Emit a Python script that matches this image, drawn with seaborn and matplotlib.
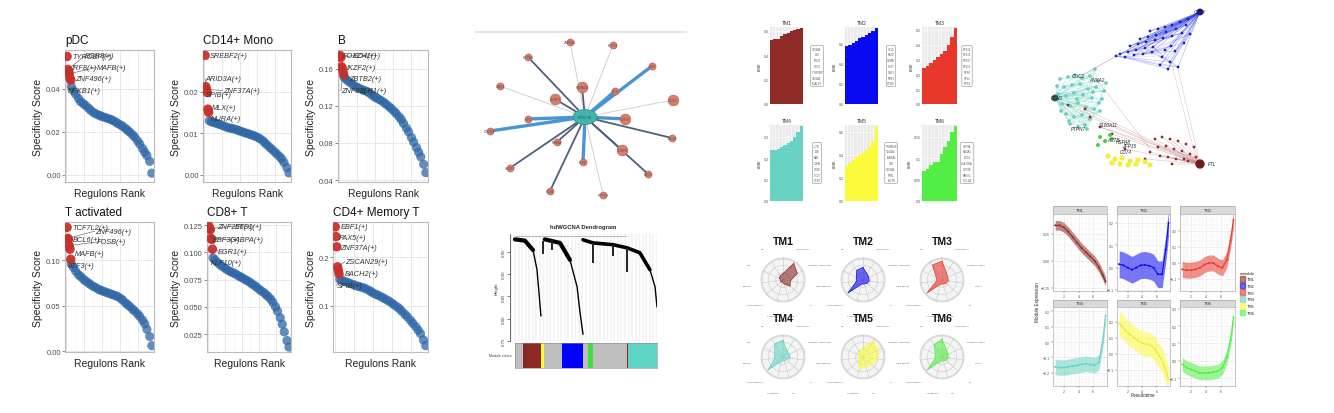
import numpy as np
import pandas as pd
import matplotlib
matplotlib.use("Agg")
import matplotlib.pyplot as plt
import seaborn as sns
from matplotlib.patches import Patch, Ellipse
from matplotlib.ticker import MultipleLocator

sns.set_theme(style="white")
plt.rcParams["font.family"] = ["Liberation Sans", "DejaVu Sans"]

W, H = 1334, 414
fig = plt.figure(figsize=(W / 100, H / 100), dpi=100)


def px_axes(x0, y0, x1, y1, **kw):
    return fig.add_axes([x0 / W, 1 - y1 / H, (x1 - x0) / W, (y1 - y0) / H], **kw)


def fx(x):
    return x / W


def fy(y):
    return 1 - y / H


# ---------------- DATA: regulon specificity (panel A) ----------------
rss_rank = [1, 2, 3, 4, 5, 6,
            7, 10, 13, 17, 20, 24, 27, 31, 34, 38, 41, 45, 48, 51, 55, 58, 62,
            65, 69, 72, 76, 79, 83, 86, 89, 93, 96, 100, 103, 107, 110, 113, 117, 120]

rss_pdc = [0.055, 0.049, 0.048, 0.047, 0.045, 0.044,
           0.041, 0.039, 0.0375, 0.0355, 0.034, 0.033, 0.0322, 0.031, 0.030, 0.029,
           0.0284, 0.0278, 0.0274, 0.0270, 0.0266, 0.0262, 0.0258, 0.0253, 0.0246,
           0.0239, 0.0232, 0.0225, 0.0216, 0.0207, 0.0198, 0.0186, 0.0175, 0.0158,
           0.0143, 0.0122, 0.0105, 0.0090, 0.0063, 0.0008]
rss_cd14 = [0.0287, 0.0212, 0.0205, 0.0198, 0.0158, 0.0150,
            0.0130, 0.0128, 0.0126, 0.0124, 0.0122, 0.0120, 0.0118, 0.0115, 0.0113,
            0.0112, 0.0111, 0.0109, 0.0107, 0.0105, 0.0103, 0.0101, 0.0099, 0.0097,
            0.0095, 0.0093, 0.0090, 0.0087, 0.0082, 0.0077, 0.0072, 0.0066, 0.0061,
            0.0055, 0.0050, 0.0044, 0.0038, 0.0030, 0.0018, 0.0005]
rss_b = [0.174, 0.172, 0.162, 0.160, 0.157, 0.153,
         0.150, 0.148, 0.146, 0.144, 0.142, 0.140, 0.139, 0.1375, 0.1365, 0.1355,
         0.134, 0.132, 0.130, 0.1285, 0.127, 0.1255, 0.1235, 0.1215, 0.119, 0.117,
         0.114, 0.1115, 0.108, 0.105, 0.101, 0.096, 0.092, 0.086, 0.081, 0.075,
         0.070, 0.065, 0.057, 0.048]
rss_tact = [0.136, 0.124, 0.123, 0.116, 0.112, 0.101,
            0.096, 0.092, 0.088, 0.084, 0.082, 0.079, 0.077, 0.075, 0.073, 0.071,
            0.070, 0.068, 0.067, 0.066, 0.065, 0.064, 0.063, 0.062, 0.061, 0.060,
            0.058, 0.056, 0.053, 0.051, 0.049, 0.046, 0.044, 0.041, 0.038, 0.034,
            0.030, 0.024, 0.016, 0.006]
rss_cd8 = [0.124, 0.122, 0.121, 0.113, 0.112, 0.103,
           0.095, 0.093, 0.091, 0.089, 0.0875, 0.086, 0.0845, 0.083, 0.082, 0.081,
           0.080, 0.0785, 0.0775, 0.0765, 0.075, 0.074, 0.0725, 0.071, 0.0695,
           0.068, 0.066, 0.0645, 0.063, 0.061, 0.0595, 0.057, 0.054, 0.050, 0.046,
           0.040, 0.034, 0.027, 0.019, 0.013]
rss_cd4m = [0.262, 0.242, 0.221, 0.180, 0.173, 0.165,
            0.154, 0.152, 0.150, 0.148, 0.146, 0.144, 0.142, 0.140, 0.1385, 0.137,
            0.135, 0.132, 0.129, 0.126, 0.123, 0.121, 0.118, 0.115, 0.112, 0.109,
            0.105, 0.101, 0.097, 0.093, 0.088, 0.082, 0.077, 0.070, 0.064, 0.057,
            0.050, 0.043, 0.030, 0.018]

rss_titles = ["pDC", "CD14+ Mono", "B", "T activated", "CD8+ T", "CD4+ Memory T"]
rss_scores = [rss_pdc, rss_cd14, rss_b, rss_tact, rss_cd8, rss_cd4m]
rss_names = [
    ["TYROBP(+)", "EGR3(+)", "IRF8(+)", "MAFB(+)", "ZNF496(+)", "NFKB1(+)"],
    ["SREBF2(+)", "ARID3A(+)", "ZNF37A(+)", "SPIB(+)", "MLX(+)", "NURA(+)"],
    ["FOXO4(+)", "EZH1(+)", "IKZF2(+)", "ZBTB2(+)", "ZNF83(+)", "ELK1(+)"],
    ["TCF7L2(+)", "ZNF496(+)", "BCL6(+)", "FOSB(+)", "MAFB(+)", "ATF3(+)"],
    ["ZNF256(+)", "ETS1(+)", "EBF3(+)", "GABPA(+)", "EGR1(+)", "KLF10(+)"],
    ["EBF1(+)", "PAX5(+)", "ZNF37A(+)", "ZSCAN29(+)", "BACH2(+)", "SPIB(+)"],
]
rss_label_x = [[8, 26, 8, 43, 12, 2], [8, 1, 26, 2, 11, 9], [5, 19, 10, 13, 2, 28],
               [8, 40, 9, 43, 12, 2], [13, 40, 7, 32, 14, 4], [8, 6, 7, 14, 14, 3]]
rss_label_y = [[0.055, 0.0553, 0.0499, 0.0499, 0.0447, 0.039],
               [0.0287, 0.0231, 0.0203, 0.0193, 0.0161, 0.0135],
               [0.174, 0.174, 0.161, 0.149, 0.136, 0.136],
               [0.136, 0.132, 0.123, 0.120, 0.107, 0.094],
               [0.124, 0.124, 0.112, 0.112, 0.101, 0.091],
               [0.262, 0.241, 0.219, 0.191, 0.166, 0.141]]
rss_ylim = [(-0.0033, 0.058), (-0.0017, 0.030), (0.038, 0.18),
            (-0.001, 0.142), (0.0085, 0.128), (0.005, 0.272)]
rss_yticks = [[0, 0.02, 0.04], [0, 0.01, 0.02], [0.04, 0.08, 0.12, 0.16],
              [0, 0.05, 0.10], [0.025, 0.05, 0.075, 0.1, 0.125], [0.1, 0.2]]
rss_yticklabels = [["0.00", "0.02", "0.04"], ["0.00", "0.01", "0.02"],
                   ["0.04", "0.08", "0.12", "0.16"], ["0.00", "0.05", "0.10"],
                   ["0.025", "0.050", "0.075", "0.100", "0.125"], ["0.1", "0.2"]]
rss_boxes = [(65, 51, 154, 183), (203, 51, 291, 183), (338, 51, 428, 183),
             (65, 223, 154, 353), (207, 223, 291, 353), (333, 223, 428, 353)]

# ---------------- DATA: co-expression hub network (panel B top) ----------------
netb_hub_x = [585]
netb_hub_y = [118]
netb_x = [570, 613, 528, 652, 500, 582, 615, 555, 673, 528, 625, 490, 672, 557, 622, 583, 510, 648, 550, 603]
netb_y = [43, 46, 58, 67, 87, 88, 92, 100, 101, 120, 120, 132, 139, 143, 151, 163, 169, 175, 192, 196]
netb_kind = ["light", "light", "dark", "blue", "light", "dark", "blue", "dark", "light", "blue",
             "blue", "blue", "dark", "dark", "dark", "blue", "dark", "dark", "dark", "light"]
netb_big = [0, 0, 0, 0, 0, 1, 0, 1, 1, 0, 1, 0, 0, 0, 1, 0, 0, 0, 0, 0]
netb_names = ["ZNF638", "KLF13", "HSPA8", "JUN", "LMO4", "HSPA1A", "FOS", "DUSP1", "CD69", "IER2",
              "JUNB", "CXCR4", "TSC22", "NR4A2", "DUSP2", "KLF6", "SRSF7", "BTG2", "CD83", "PPP1R"]

# ---------------- DATA: dendrogram (panel B bottom) ----------------
dend_arc1_x = [0, 7, 12.7, 15.5, 16.9, 18.3]
dend_arc1_h = [0.978, 0.975, 0.954, 0.910, 0.858, 0.806]
dend_arc2_x = [21, 31.7, 38.7, 43.7, 45.8, 47.9]
dend_arc2_h = [0.978, 0.970, 0.932, 0.872, 0.814, 0.765]
dend_arc3_x = [47.9, 54.9, 69, 78.9, 87.9, 95, 98.6, 100]
dend_arc3_h = [0.977, 0.970, 0.966, 0.959, 0.948, 0.910, 0.872, 0.826]
dend_drop_x = [20, 26, 55, 69, 79]
dend_drop_top = [0.975, 0.976, 0.970, 0.966, 0.959]
dend_drop_bot = [0.945, 0.955, 0.925, 0.940, 0.905]
module_bar_colors = ["#bebebe", "#8b2a25", "#ffff33", "#bebebe", "#0000ff",
                     "#bebebe", "#44dd44", "#bebebe", "#8b2a25", "#5fd3c6"]
module_bar_widths = [5.6, 12.7, 2.1, 12.7, 14.8, 3.5, 3.5, 24.0, 0.7, 20.4]

# ---------------- DATA: module kME and radar (panel C) ----------------
modules = ["TM1", "TM2", "TM3", "TM4", "TM5", "TM6"]
module_colors = ["#8e2b26", "#0a0af0", "#e8372b", "#68d3c3", "#fbfb3c", "#52ee45"]
kme_tm1 = [0.525, 0.53, 0.535, 0.56, 0.575, 0.585, 0.60, 0.605, 0.615, 0.62]
kme_tm2 = [0.575, 0.59, 0.61, 0.63, 0.655, 0.67, 0.69, 0.71, 0.73, 0.755]
kme_tm3 = [0.24, 0.26, 0.28, 0.30, 0.32, 0.34, 0.36, 0.40, 0.45, 0.51]
kme_tm4 = [0.24, 0.24, 0.245, 0.25, 0.26, 0.27, 0.28, 0.30, 0.32, 0.35]
kme_tm5 = [0.30, 0.33, 0.36, 0.38, 0.40, 0.42, 0.44, 0.47, 0.52, 0.65]
kme_tm6 = [0.07, 0.075, 0.085, 0.09, 0.09, 0.11, 0.125, 0.14, 0.16, 0.175]
kme_values = [kme_tm1, kme_tm2, kme_tm3, kme_tm4, kme_tm5, kme_tm6]
kme_ylim = [0.63, 0.765, 0.52, 0.355, 0.66, 0.177]
kme_yticks = [[0, 0.2, 0.4, 0.6], [0, 0.2, 0.4, 0.6], [0, 0.1, 0.2, 0.3, 0.4, 0.5],
              [0, 0.1, 0.2, 0.3], [0, 0.2, 0.4, 0.6], [0, 0.05, 0.10, 0.15]]
kme_genes = [["S100A8", "LYZ", "FCN1", "CST3", "TYROBP", "S100A9", "LGALS2"],
             ["CCL5", "NKG7", "GZMA", "CST7", "GNLY", "PRF1", "CTSW"],
             ["RPS12", "RPL32", "RPS27", "RPL13", "RPS6", "RPL3", "RPS3"],
             ["IL7R", "LTB", "MAL", "LDHB", "CD3E", "TCF7", "CCR7"],
             ["TMSB4X", "S100A4", "ANXA1", "VIM", "S100A6", "FTH1", "ACTB"],
             ["CD79A", "MS4A1", "CD74", "HLA-DRA", "CD79B", "BANK1", "TCL1A"]]
kme_boxes = [(770, 28, 803, 105), (845, 28, 878, 105), (922, 28, 957, 105),
             (770, 126, 803, 202), (845, 126, 878, 202), (922, 126, 957, 202)]
kme_legend_xy = [(817, 67), (891, 67), (967, 67), (817, 164), (891, 164), (967, 164)]

radar_cats = ["CD14+ Mono", "CD4 Naive T", "FCGR3A+ Mono", "CD8 T", "B", "NK",
              "T activated", "CD4 Memory T", "Platelet", "pDC", "DC"]
radar_vals = [[0.30, 0.95, 0.75, 0.35, 0.45, 0.20, 0.10, 0.15, 0.10, 0.20, 0.25],
              [0.60, 0.35, 0.30, 0.30, 0.25, 0.20, 0.20, 0.95, 0.30, 0.35, 0.55],
              [0.90, 0.40, 0.30, 0.30, 0.25, 0.20, 0.20, 0.95, 0.25, 0.30, 0.85],
              [0.80, 0.35, 0.30, 0.35, 0.20, 0.20, 0.20, 0.95, 0.40, 0.45, 0.75],
              [0.45, 0.90, 0.80, 0.70, 0.55, 0.50, 0.60, 0.30, 0.20, 0.25, 0.30],
              [0.85, 0.40, 0.30, 0.30, 0.25, 0.20, 0.20, 0.95, 0.30, 0.35, 0.70]]
radar_centers = [(783, 281), (863, 281), (942, 281), (783, 358), (863, 358), (942, 358)]

# ---------------- DATA: module network (panel D top) ----------------
netd_blue_hub = [1200, 13]
netd_blue_x = [1150, 1158, 1165, 1172, 1180, 1188, 1140, 1148, 1156, 1166, 1176, 1186, 1130, 1138,
               1146, 1155, 1163, 1172, 1182, 1120, 1128, 1136, 1145, 1153, 1162, 1170, 1178, 1116,
               1125, 1160, 1168, 1175, 1184, 1190, 1134, 1143, 1152, 1165, 1171]
netd_blue_y = [32, 30, 28, 26, 23, 20, 40, 38, 36, 33, 30, 26, 47, 45, 43, 41, 39, 37, 34, 55, 53,
               51, 49, 48, 58, 63, 68, 57, 58, 66, 70, 52, 44, 35, 56, 55, 53, 51, 47]
netd_teal_hub = [1055, 99]
netd_teal_x = [1060, 1068, 1075, 1082, 1090, 1098, 1064, 1072, 1080, 1088, 1096, 1104, 1058, 1066,
               1074, 1083, 1092, 1062, 1070, 1078, 1086, 1094, 1066, 1074, 1082, 1090, 1100, 1070,
               1078, 1085, 1102, 1095, 1057, 1061, 1069, 1077, 1093, 1099, 1087, 1106]
netd_teal_y = [80, 78, 76, 79, 77, 82, 88, 86, 85, 90, 88, 92, 95, 97, 94, 96, 99, 105, 107, 104,
               108, 110, 115, 118, 116, 120, 112, 125, 128, 126, 100, 70, 87, 112, 122, 100, 93,
               104, 130, 84]
netd_red_hub = [1200, 165]
netd_red_x = [1155, 1162, 1170, 1178, 1186, 1194, 1158, 1166, 1174, 1182, 1190, 1160, 1168, 1176,
              1184, 1150, 1145, 1172, 1188, 1196, 1068, 1085, 1090, 1100, 1112, 1125]
netd_red_y = [140, 138, 140, 142, 145, 148, 148, 147, 150, 152, 155, 157, 158, 160, 160, 153, 160,
              165, 162, 158, 106, 110, 118, 128, 135, 150]
netd_yellow_x = [1108, 1115, 1122, 1130, 1138, 1145, 1112, 1120, 1128, 1136, 1150]
netd_yellow_y = [157, 160, 159, 162, 161, 163, 164, 165, 166, 165, 166]
netd_green_x = [1100, 1105, 1110, 1098, 1112]
netd_green_y = [138, 142, 136, 146, 140]
netd_cross_x0 = [1178, 1172, 1120, 1116, 1098, 1100]
netd_cross_y0 = [70, 66, 55, 57, 82, 128]
netd_cross_x1 = [1200, 1196, 1082, 1078, 1150, 1198]
netd_cross_y1 = [165, 160, 76, 79, 150, 160]
netd_label = ["GNLY", "CLIC1", "ANXA2", "FCN1", "S100A11", "PTPN7", "ACTB", "HSPA8", "ZFP36", "CD74", "FTL"]
netd_label_x = [1200, 1078, 1097, 1057, 1108, 1078, 1113, 1123, 1129, 1126, 1212]
netd_label_y = [13, 77, 81, 99, 126, 130, 141, 143, 147, 153, 165]

# ---------------- DATA: module trajectories (panel D bottom) ----------------
traj_x = [0.8, 1.4, 2.0, 2.6, 3.2, 3.8, 4.4, 5.0, 5.6, 6.2, 6.8, 7.3, 7.7]
traj_tm1 = [0.33, 0.33, 0.31, 0.27, 0.22, 0.17, 0.12, 0.08, 0.04, 0.0, -0.06, -0.13, -0.19]
traj_tm2 = [0.015, 0.01, 0.0, -0.01, 0.0, 0.01, 0.012, 0.008, 0.0, -0.03, -0.03, 0.08, 0.2]
traj_tm3 = [-0.04, -0.045, -0.045, -0.04, -0.03, -0.01, 0.0, 0.0, -0.02, -0.03, 0.02, 0.14, 0.27]
traj_tm4 = [-0.16, -0.165, -0.165, -0.16, -0.155, -0.15, -0.145, -0.14, -0.145, -0.15, -0.13, 0.0, 0.17]
traj_tm5 = [0.19, 0.16, 0.13, 0.11, 0.09, 0.07, 0.06, 0.06, 0.04, 0.0, -0.04, -0.1, -0.16]
traj_tm6 = [-0.02, -0.04, -0.05, -0.06, -0.07, -0.07, -0.07, -0.065, -0.06, -0.04, 0.02, 0.12, 0.25]
traj_means = [traj_tm1, traj_tm2, traj_tm3, traj_tm4, traj_tm5, traj_tm6]
traj_halfwidth = [0.045, 0.06, 0.05, 0.05, 0.075, 0.04]
traj_ylim = [(-0.28, 0.435), (-0.105, 0.24), (-0.175, 0.306), (-0.284, 0.226), (-0.2, 0.29), (-0.145, 0.31)]
traj_yticks = [[-0.25, 0, 0.25], [-0.1, 0, 0.1, 0.2], [-0.1, 0, 0.1, 0.2],
               [-0.2, -0.1, 0, 0.1, 0.2], [-0.1, 0, 0.1, 0.2], [-0.1, 0, 0.1, 0.2, 0.3]]
traj_boxes = [(1053, 215, 1107, 292), (1117, 215, 1170, 292), (1180, 215, 1235, 292),
              (1053, 308, 1107, 387), (1117, 308, 1170, 387), (1180, 308, 1235, 387)]
traj_strips = [(207, 215), (207, 215), (207, 215), (301, 308), (301, 308), (301, 308)]

BLUE = "#2f68a6"
RED = "#cc2f2a"

# --------- A: REGULON SPECIFICITY RANKING ---------
for k in range(6):
    ax = px_axes(*rss_boxes[k])
    df = pd.DataFrame({"rank": rss_rank, "score": rss_scores[k]})
    sns.scatterplot(data=df.iloc[6:], x="rank", y="score", color=BLUE, s=44, alpha=0.75,
                    edgecolor="none", ax=ax, legend=False, zorder=3)
    sns.scatterplot(data=df.iloc[:6], x="rank", y="score", color=RED, s=46, alpha=0.95,
                    edgecolor="none", ax=ax, legend=False, zorder=4)
    ymin, ymax = rss_ylim[k]
    for j in range(6):
        lx, ly = rss_label_x[k][j], rss_label_y[k][j]
        if lx - rss_rank[j] > 14 or abs(ly - rss_scores[k][j]) > 0.04 * (ymax - ymin):
            ax.plot([rss_rank[j], lx], [rss_scores[k][j], ly], color="#555555", lw=0.4, zorder=4)
        ax.text(lx, ly, rss_names[k][j], fontsize=5.3, style="italic", color="#333333",
                ha="left", va="center", zorder=5)
    ax.set_xlim(-2, 123)
    ax.set_ylim(ymin, ymax)
    ax.set_yticks(rss_yticks[k])
    ax.set_yticklabels(rss_yticklabels[k], fontsize=5.5, color="#4d4d4d")
    ax.xaxis.set_major_locator(MultipleLocator(25))
    ax.xaxis.set_minor_locator(MultipleLocator(12.5))
    ax.set_xticklabels([])
    ax.tick_params(axis="x", which="both", length=0)
    ax.tick_params(axis="y", which="major", length=2, width=0.5, color="#555555", pad=1, left=True)
    ax.grid(True, which="major", color="#e4e4e4", lw=0.6)
    ax.grid(True, which="minor", axis="x", color="#f1f1f1", lw=0.4)
    ax.set_axisbelow(True)
    for s in ax.spines.values():
        s.set_color("#bbbbbb")
        s.set_linewidth(0.8)
    ax.set_title(rss_titles[k], fontsize=8.5, loc="left", pad=5, color="#111111")
    ax.set_xlabel("Regulons Rank", fontsize=7.5, labelpad=1, color="#222222")
    ax.set_ylabel("Specificity Score", fontsize=7.5, labelpad=2, color="#222222")

# --------- B: HUB NETWORK ---------
ax = px_axes(476, 33, 686, 205)
edge_style = {"blue": ("#4a94d4", 2.4), "dark": ("#4f6178", 1.3), "light": ("#c9c9c9", 0.6)}
for x, y, kind in zip(netb_x, netb_y, netb_kind):
    col, lw = edge_style[kind]
    ax.plot([netb_hub_x[0], x], [netb_hub_y[0], y], color=col, lw=lw, zorder=1,
            solid_capstyle="round")
nb = pd.DataFrame({"x": netb_x, "y": netb_y, "big": netb_big})
sns.scatterplot(data=nb[nb["big"] == 0], x="x", y="y", s=26, color="#d97d6c",
                edgecolor="#b35a4b", linewidth=0.4, ax=ax, legend=False, zorder=3)
sns.scatterplot(data=nb[nb["big"] == 1], x="x", y="y", s=60, color="#d97d6c",
                edgecolor="#b35a4b", linewidth=0.4, ax=ax, legend=False, zorder=3)
ax.add_patch(Ellipse((netb_hub_x[0], netb_hub_y[0]), 24, 15, fc="#3fb5ad", ec="#2d8f89",
                     lw=0.5, zorder=4))
for x, y, name in zip(netb_x, netb_y, netb_names):
    ax.text(x, y, name, fontsize=2.4, color="#555555", ha="center", va="center", zorder=5)
ax.text(netb_hub_x[0], netb_hub_y[0], "RPS27A", fontsize=2.6, color="#335555", ha="center",
        va="center", zorder=5)
ax.set_xlim(476, 686)
ax.set_ylim(205, 33)
ax.set_xticks([])
ax.set_yticks([])
ax.set_xlabel("")
ax.set_ylabel("")
for side in ["left", "right", "bottom"]:
    ax.spines[side].set_visible(False)
ax.spines["top"].set_color("#e6e6e6")
ax.spines["top"].set_linewidth(1.5)
ax.patch.set_alpha(0)

# --------- B: DENDROGRAM ---------
ax = px_axes(510, 235, 657, 342)
ax.plot(dend_arc1_x, dend_arc1_h, color="black", lw=1.0)
ax.plot(dend_arc1_x[:3], dend_arc1_h[:3], color="black", lw=3.0, solid_capstyle="round")
ax.plot(dend_arc2_x, dend_arc2_h, color="black", lw=1.0)
ax.plot(dend_arc2_x[:3], dend_arc2_h[:3], color="black", lw=3.0, solid_capstyle="round")
ax.plot(dend_arc3_x, dend_arc3_h, color="black", lw=1.0)
ax.plot(dend_arc3_x[:6], dend_arc3_h[:6], color="black", lw=2.6, solid_capstyle="round")
ax.vlines(dend_drop_x, dend_drop_bot, dend_drop_top, color="#222222", lw=1.4)
ax.hlines(0.986, 0, 79, color="#b0b0b0", lw=0.6)
ax.set_xlim(-3.5, 100)
ax.set_ylim(0.75, 0.99)
ax.xaxis.set_minor_locator(MultipleLocator(2.5))
ax.set_xticks([])
ax.grid(True, which="minor", axis="x", color="#d8d8d8", lw=0.35)
ax.set_yticks([0.75, 0.80, 0.85, 0.90, 0.95])
ax.set_yticklabels(["0.75", "0.80", "0.85", "0.90", "0.95"], fontsize=3.2, rotation=90,
                   va="center", color="#444444")
ax.tick_params(axis="y", length=2, width=0.4, pad=1, left=True)
for side in ["top", "right", "bottom"]:
    ax.spines[side].set_visible(False)
ax.spines["left"].set_color("#333333")
ax.spines["left"].set_linewidth(0.5)
ax.set_ylabel("Height", fontsize=3.2, labelpad=2)
ax.set_title("hdWGCNA Dendrogram", fontsize=4.2, fontweight="bold", pad=4)

ax = px_axes(515, 344, 657, 369)
lefts = np.cumsum([0] + module_bar_widths[:-1])
ax.barh([0] * len(module_bar_widths), module_bar_widths, left=lefts, height=1,
        color=module_bar_colors, edgecolor="none")
ax.set_xlim(0, 100)
ax.set_ylim(-0.5, 0.5)
ax.set_xticks([])
ax.set_yticks([])
for s in ax.spines.values():
    s.set_color("#888888")
    s.set_linewidth(0.4)
fig.text(fx(512), fy(356), "Module colors", fontsize=2.6, ha="right", va="center", color="#444444")

# --------- C: kME PLOTS ---------
for k in range(6):
    ax = px_axes(*kme_boxes[k])
    vals = kme_values[k]
    sns.barplot(x=list(range(len(vals))), y=vals, color=module_colors[k], width=1,
                saturation=1, edgecolor="none", ax=ax)
    ax.set_facecolor("#ebebeb")
    ax.set_xlim(-0.5, len(vals) - 0.5)
    ax.set_ylim(0, kme_ylim[k])
    ax.set_xticks(range(len(vals)))
    ax.set_xticklabels([])
    ax.set_yticks(kme_yticks[k])
    ax.set_yticklabels([f"{t:g}" if t else "0.0" for t in kme_yticks[k]], fontsize=2.6, color="#555555")
    ax.tick_params(axis="both", length=0, pad=1)
    ax.grid(True, color="white", lw=0.4)
    ax.set_axisbelow(True)
    for s in ax.spines.values():
        s.set_visible(False)
    ax.set_title(modules[k], fontsize=3.6, pad=2, color="#333333")
    ax.set_ylabel("kME", fontsize=3.2, labelpad=1.5, color="#333333")
    ax.set_xlabel("")
    lx, ly = kme_legend_xy[k]
    fig.text(fx(lx), fy(ly), "\n".join(kme_genes[k]), fontsize=1.9, linespacing=1.6,
             ha="center", va="center", color="#555555",
             bbox=dict(boxstyle="round,pad=0.35", fc="white", ec="#8a8a8a", lw=0.4))

# --------- C: RADAR PLOTS ---------
angles = np.linspace(0, 2 * np.pi, len(radar_cats), endpoint=False)
for k in range(6):
    cx, cy = radar_centers[k]
    ax = px_axes(cx - 22, cy - 22, cx + 22, cy + 22, projection="polar")
    ax.set_theta_offset(np.pi / 2)
    ax.set_theta_direction(-1)
    vals = radar_vals[k] + radar_vals[k][:1]
    angs = list(angles) + [angles[0]]
    ax.fill(angs, vals, color=module_colors[k], alpha=0.6, lw=0, zorder=3)
    ax.plot(angs, vals, color=module_colors[k], lw=0.5, zorder=3)
    ax.set_ylim(0, 1.05)
    ax.set_yticks([0.35, 0.7, 1.0])
    ax.set_yticklabels([])
    ax.set_xticks(angles)
    ax.set_xticklabels(radar_cats, fontsize=1.7, color="#555555")
    ax.tick_params(axis="x", pad=-2.2)
    ax.grid(True, color="#c8c8c8", lw=0.4)
    ax.set_facecolor("#f4f4f4")
    ax.spines["polar"].set_color("#c8c8c8")
    ax.spines["polar"].set_linewidth(0.5)
    fig.text(fx(cx), fy(cy - 39), modules[k], fontsize=7.5, fontweight="bold",
             ha="center", va="center", color="#111111")

# --------- D: MODULE NETWORK ---------
ax = px_axes(1030, 5, 1240, 185)
for x0, y0, x1, y1 in zip(netd_cross_x0, netd_cross_y0, netd_cross_x1, netd_cross_y1):
    ax.plot([x0, x1], [y0, y1], color="#d6b5b5", lw=0.4, alpha=0.8, zorder=1)
for hub, xs, ys, col in [(netd_blue_hub, netd_blue_x, netd_blue_y, "#3040ee"),
                         (netd_teal_hub, netd_teal_x, netd_teal_y, "#7fd5c7"),
                         (netd_red_hub, netd_red_x, netd_red_y, "#c07575")]:
    for x, y in zip(xs, ys):
        ax.plot([hub[0], x], [hub[1], y], color=col, lw=0.35, alpha=0.55, zorder=1)
for step in [1, 2, 3]:
    for i in range(len(netd_blue_x) - step):
        ax.plot([netd_blue_x[i], netd_blue_x[i + step]], [netd_blue_y[i], netd_blue_y[i + step]],
                color="#4a55ee", lw=0.25, alpha=0.35, zorder=1)
    for i in range(len(netd_teal_x) - step):
        ax.plot([netd_teal_x[i], netd_teal_x[i + step]], [netd_teal_y[i], netd_teal_y[i + step]],
                color="#8fdccf", lw=0.3, alpha=0.6, zorder=1)
sns.scatterplot(x=netd_teal_x, y=netd_teal_y, s=7, color="#6fcdbd", edgecolor="none", ax=ax, zorder=2)
sns.scatterplot(x=netd_blue_x, y=netd_blue_y, s=4, color="#1a24b0", edgecolor="none", ax=ax, zorder=2)
sns.scatterplot(x=netd_red_x, y=netd_red_y, s=4, color="#9a2a2a", edgecolor="none", ax=ax, zorder=2)
sns.scatterplot(x=netd_yellow_x, y=netd_yellow_y, s=14, color="#f4ee3a", edgecolor="none", ax=ax, zorder=2)
sns.scatterplot(x=netd_green_x, y=netd_green_y, s=8, color="#3fcf3f", edgecolor="none", ax=ax, zorder=2)
sns.scatterplot(x=[netd_red_hub[0]], y=[netd_red_hub[1]], s=45, color="#6e1c1c", edgecolor="none", ax=ax, zorder=3)
sns.scatterplot(x=[netd_blue_hub[0]], y=[netd_blue_hub[1]], s=25, color="#1a1a8a", edgecolor="none", ax=ax, zorder=3)
sns.scatterplot(x=[netd_teal_hub[0]], y=[netd_teal_hub[1]], s=25, color="#2f5f55", edgecolor="none", ax=ax, zorder=3)
for name, x, y in zip(netd_label, netd_label_x, netd_label_y):
    ax.text(x, y, name, fontsize=3.3, style="italic", color="#222222", ha="center", va="center", zorder=5)
ax.set_xlim(1030, 1240)
ax.set_ylim(185, 5)
ax.axis("off")

# --------- D: MODULE TRAJECTORIES ---------
for k in range(6):
    x0, y0, x1, y1 = traj_boxes[k]
    sax = px_axes(x0, traj_strips[k][0], x1, traj_strips[k][1])
    sax.set_facecolor("#d9d9d9")
    sax.set_xticks([])
    sax.set_yticks([])
    for s in sax.spines.values():
        s.set_color("#9a9a9a")
        s.set_linewidth(0.4)
    sax.text(0.5, 0.5, modules[k], fontsize=2.8, ha="center", va="center", color="#333333",
             transform=sax.transAxes)
    ax = px_axes(x0, y0, x1, y1)
    c = module_colors[k]
    mean = np.array(traj_means[k])
    hw = traj_halfwidth[k]
    ax.fill_between(traj_x, mean - hw, mean + hw, color=c, alpha=0.55, lw=0, zorder=2)
    sns.lineplot(x=traj_x, y=mean, color=c if k != 4 else "#e8e030", lw=0.8, ax=ax, zorder=3)
    sns.scatterplot(x=traj_x, y=mean, color=c, s=2, edgecolor="none", ax=ax, zorder=3)
    ax.set_xlim(0.5, 7.9)
    ax.set_ylim(*traj_ylim[k])
    ax.set_xticks([2, 4, 6])
    ax.set_yticks(traj_yticks[k])
    ax.tick_params(labelsize=2.6, length=1.2, width=0.3, pad=0.8, colors="#555555",
                   left=True, bottom=True)
    ax.minorticks_on()
    ax.tick_params(which="minor", length=0)
    ax.grid(True, which="major", color="#e3e3e3", lw=0.4)
    ax.grid(True, which="minor", color="#f1f1f1", lw=0.3)
    ax.set_axisbelow(True)
    for s in ax.spines.values():
        s.set_color("#9a9a9a")
        s.set_linewidth(0.4)

fig.text(fx(1038), fy(302), "Module Expression", fontsize=3.3, rotation=90, ha="center", va="center")
fig.text(fx(1143), fy(396), "Pseudotime", fontsize=3.3, ha="center", va="center")
handles = [Patch(facecolor=c, edgecolor=c, alpha=0.6) for c in module_colors]
fig.legend(handles, modules, title="variable", loc="upper left",
           bbox_to_anchor=(fx(1240), fy(272)), fontsize=2.8, title_fontsize=3.2,
           frameon=False, handlelength=1.3, handleheight=1.9, labelspacing=0.25,
           handletextpad=0.5, borderaxespad=0, borderpad=0)

fig.savefig("out.png", dpi=100, facecolor="white")
